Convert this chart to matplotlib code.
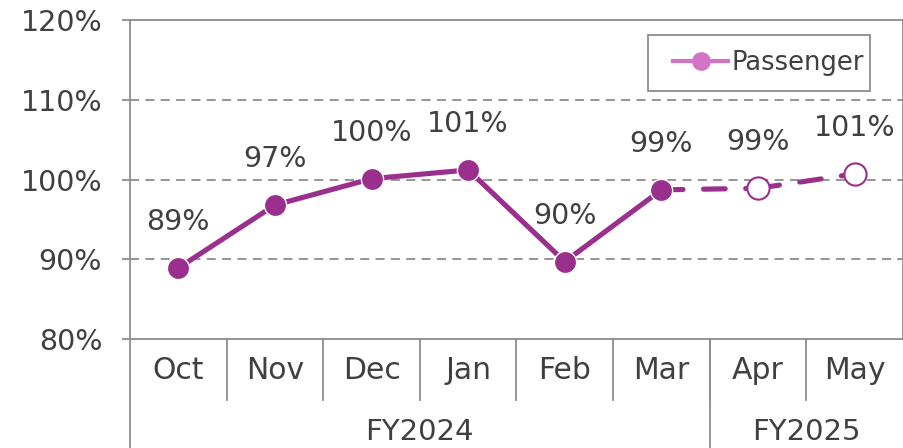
import matplotlib
matplotlib.use("Agg")
import matplotlib.pyplot as plt
from matplotlib.lines import Line2D
from matplotlib.patches import Rectangle

months = ["Oct", "Nov", "Dec", "Jan", "Feb", "Mar", "Apr", "May"]
fiscal_years = ["FY2024", "FY2025"]
fy_month_counts = [6, 2]
actual = [88.9, 96.8, 100.1, 101.2, 89.7, 98.7]   # Oct-Mar results
forecast = [98.9, 100.7]                           # Apr-May outlook
series_name = "Passenger"

line_color = "#9B2F8E"
legend_color = "#D374C6"
text_color = "#404040"
frame_color = "#8C8C8C"

plt.rcParams["font.family"] = ["DejaVu Sans"]

W, H = 904, 448
fig = plt.figure(figsize=(W / 100, H / 100), dpi=100)
ax = fig.add_axes([130 / W, 109 / H, 773 / W, 319 / H])

x_actual = list(range(len(actual)))
x_forecast = list(range(len(actual), len(actual) + len(forecast)))

# dashed segments toward the forecast points (pattern restarts per segment)
xs = [x_actual[-1]] + x_forecast
ys = [actual[-1]] + forecast
for i in range(len(xs) - 1):
    ax.plot(xs[i:i + 2], ys[i:i + 2], color=line_color, lw=3.7,
            linestyle=(0, (4.2, 4.0)), dash_capstyle="round", zorder=3)
ax.plot(x_actual, actual, color=line_color, lw=3.7, marker="o", markersize=16,
        markerfacecolor=line_color, markeredgecolor="white", markeredgewidth=1.0,
        zorder=4)
ax.plot(x_forecast, forecast, linestyle="none", marker="o", markersize=16,
        markerfacecolor="white", markeredgecolor=line_color, markeredgewidth=1.5,
        zorder=4)

for xi, v in zip(x_actual + x_forecast, actual + forecast):
    ax.annotate(f"{round(v):.0f}%", (xi, v), xytext=(0, 33),
                textcoords="offset points", ha="center", va="center",
                fontsize=20.5, color=text_color)

ax.set_xlim(-0.5, len(months) - 0.5)
ax.set_ylim(80, 120)
ticks = [80, 90, 100, 110, 120]
ax.set_yticks(ticks)
ax.set_yticklabels([f"{t}%" for t in ticks])
ax.tick_params(axis="y", length=6, width=1.3, color=frame_color, pad=14,
               labelsize=20.5, labelcolor=text_color)
ax.set_xticks([])

for y in [90, 100, 110]:
    ax.axhline(y, color=frame_color, lw=1.3, linestyle=(0, (5, 3.5)), zorder=1)

for s in ax.spines.values():
    s.set_color(frame_color)
    s.set_linewidth(1.3)

# two-level category axis
tr = ax.get_xaxis_transform()
for i, m in enumerate(months):
    ax.text(i, -0.100, m, transform=tr, ha="center", va="center",
            fontsize=21.5, color=text_color, clip_on=False)
for i in range(len(months) - 1):
    ax.plot([i + 0.5, i + 0.5], [0, -0.191], transform=tr, color=frame_color,
            lw=1.3, clip_on=False)

start = -0.5
for fy, n in zip(fiscal_years, fy_month_counts):
    end = start + n
    ax.text((start + end) / 2, -0.292, fy, transform=tr, ha="center",
            va="center", fontsize=21, color=text_color, clip_on=False)
    ax.plot([start, start], [0, -0.35], transform=tr, color=frame_color,
            lw=1.3, clip_on=False)
    start = end

# legend box
box = Rectangle((648 / W, (H - 91) / H), 222 / W, 56 / H,
                transform=fig.transFigure, facecolor="white",
                edgecolor=frame_color, lw=1.3, zorder=6)
ax.add_patch(box)
box.set_clip_on(False)

handle = Line2D([], [], color=legend_color, lw=3.0, marker="o", markersize=12.5,
                markerfacecolor=legend_color, markeredgecolor=legend_color)
leg = ax.legend([handle], [series_name], loc="center left",
                bbox_to_anchor=(673 / W, (H - 63) / H),
                bbox_transform=fig.transFigure, fontsize=18.5, frameon=False,
                handlelength=2.15, handletextpad=0.12, borderpad=0,
                borderaxespad=0, labelcolor=text_color)
leg.set_zorder(7)

fig.savefig("out.png", dpi=100)
